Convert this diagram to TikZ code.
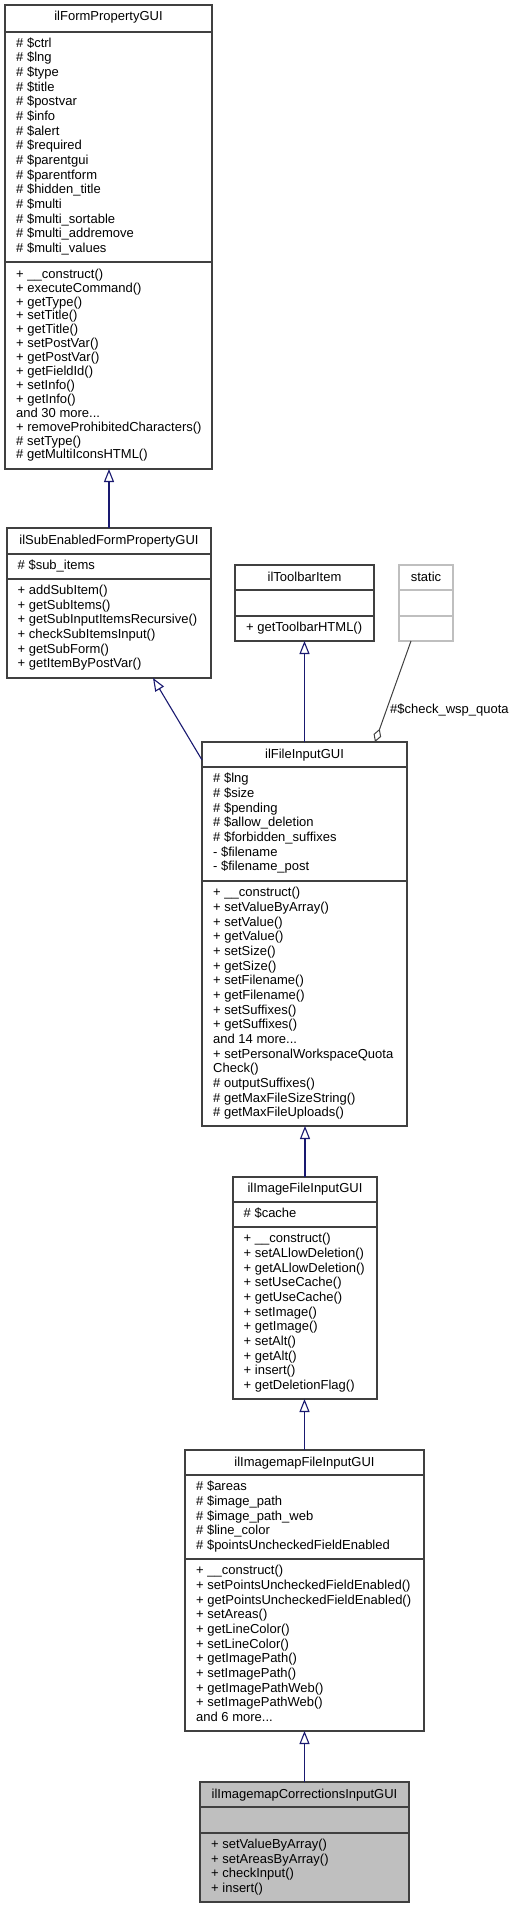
\documentclass[tikz,border=0pt]{standalone}
\usepackage{fontspec}
\setmainfont{Liberation Sans}
\usetikzlibrary{arrows.meta,calc}
\definecolor{boxc}{HTML}{404040}
\definecolor{edgec}{HTML}{191970}
\definecolor{graybox}{HTML}{BFBFBF}
\newcommand{\fs}{\fontsize{13}{14.67}\selectfont}
\newcommand{\fsn}{\fontsize{13}{13.9}\selectfont}
\tikzset{
  box/.style={draw=boxc, line width=1.4pt, inner sep=0pt, outer sep=0pt, fill=white, anchor=north west},
  ttl/.style={anchor=base, inner sep=0pt, font=\fs},
  txt/.style={anchor=north west, inner sep=0pt, align=left, font=\fs},
  sepline/.style={draw=boxc, line width=1.4pt},
  inh/.style={draw=edgec, line width=1.1pt, -{Triangle[open, length=13pt, width=10pt]}},
  agg/.style={draw=boxc, line width=1pt, -{Diamond[open, length=14pt, width=8pt]}},
}
\begin{document}
\begin{tikzpicture}[x=1pt, y=-1pt]
\useasboundingbox (0,0) rectangle (515,1908);

% ilFormPropertyGUI
\node[box, minimum width=207pt, minimum height=464pt] (fpg) at (5,5) {};
\draw[sepline] (5,32) -- (212,32);
\draw[sepline] (5,262) -- (212,262);
\node[ttl] (fpg-t) at (108.5,20.3) {ilFormPropertyGUI};
\node[txt] (fpg-a) at (16,36.7) {\strut\# \$ctrl\\\# \$lng\\\# \$type\\\# \$title\\\# \$postvar\\\# \$info\\\# \$alert\\\# \$required\\\# \$parentgui\\\# \$parentform\\\# \$hidden\_title\\\# \$multi\\\# \$multi\_sortable\\\# \$multi\_addremove\\\# \$multi\_values};
\node[txt, font=\fsn] (fpg-m) at (16,268.3) {\strut+ \_\_construct()\\+ executeCommand()\\+ getType()\\+ setTitle()\\+ getTitle()\\+ setPostVar()\\+ getPostVar()\\+ getFieldId()\\+ setInfo()\\+ getInfo()\\and 30 more...\\+ removeProhibitedCharacters()\\\# setType()\\\# getMultiIconsHTML()};

% ilSubEnabledFormPropertyGUI
\node[box, minimum width=204pt, minimum height=150pt] (sub) at (7,528) {};
\draw[sepline] (7,554) -- (211,554);
\draw[sepline] (7,579) -- (211,579);
\node[ttl] (sub-t) at (109,544) {ilSubEnabledFormPropertyGUI};
\node[txt] (sub-a) at (17.5,559) {\strut\# \$sub\_items};
\node[txt] (sub-m) at (17.5,584) {\strut+ addSubItem()\\+ getSubItems()\\+ getSubInputItemsRecursive()\\+ checkSubItemsInput()\\+ getSubForm()\\+ getItemByPostVar()};

% ilToolbarItem
\node[box, minimum width=139pt, minimum height=76pt] (tb) at (235,565) {};
\draw[sepline] (235,590) -- (374,590);
\draw[sepline] (235,616) -- (374,616);
\node[ttl] (tb-t) at (304.5,581) {ilToolbarItem};
\node[txt] (tb-m) at (246,621.2) {\strut+ getToolbarHTML()};

% static
\node[box, draw=graybox, minimum width=54pt, minimum height=76pt] (static) at (399,565) {};
\draw[sepline, draw=graybox] (399,590) -- (453,590);
\draw[sepline, draw=graybox] (399,616) -- (453,616);
\node[ttl] (static-t) at (426,581) {static};

% ilFileInputGUI
\node[box, minimum width=205pt, minimum height=384pt] (fig) at (202,742) {};
\draw[sepline] (202,767) -- (407,767);
\draw[sepline] (202,881) -- (407,881);
\node[ttl] (fig-t) at (304.5,758) {ilFileInputGUI};
\node[txt] (fig-a) at (213,772.2) {\strut\# \$lng\\\# \$size\\\# \$pending\\\# \$allow\_deletion\\\# \$forbidden\_suffixes\\- \$filename\\- \$filename\_post};
\node[txt] (fig-m) at (213,886.2) {\strut+ \_\_construct()\\+ setValueByArray()\\+ setValue()\\+ getValue()\\+ setSize()\\+ getSize()\\+ setFilename()\\+ getFilename()\\+ setSuffixes()\\+ getSuffixes()\\and 14 more...\\+ setPersonalWorkspaceQuota\\Check()\\\# outputSuffixes()\\\# getMaxFileSizeString()\\\# getMaxFileUploads()};

% ilImageFileInputGUI
\node[box, minimum width=144pt, minimum height=222pt] (ifig) at (233,1177) {};
\draw[sepline] (233,1202) -- (377,1202);
\draw[sepline] (233,1227) -- (377,1227);
\node[ttl] (ifig-t) at (305,1192.5) {ilImageFileInputGUI};
\node[txt] (ifig-a) at (243.5,1207.2) {\strut\# \$cache};
\node[txt] (ifig-m) at (243.5,1232.2) {\strut+ \_\_construct()\\+ setALlowDeletion()\\+ getALlowDeletion()\\+ setUseCache()\\+ getUseCache()\\+ setImage()\\+ getImage()\\+ setAlt()\\+ getAlt()\\+ insert()\\+ getDeletionFlag()};

% ilImagemapFileInputGUI
\node[box, minimum width=239pt, minimum height=281pt] (imfig) at (185,1450) {};
\draw[sepline] (185,1475) -- (424,1475);
\draw[sepline] (185,1559) -- (424,1559);
\node[ttl] (imfig-t) at (304.5,1466) {ilImagemapFileInputGUI};
\node[txt] (imfig-a) at (196,1480.2) {\strut\# \$areas\\\# \$image\_path\\\# \$image\_path\_web\\\# \$line\_color\\\# \$pointsUncheckedFieldEnabled};
\node[txt] (imfig-m) at (196,1564.2) {\strut+ \_\_construct()\\+ setPointsUncheckedFieldEnabled()\\+ getPointsUncheckedFieldEnabled()\\+ setAreas()\\+ getLineColor()\\+ setLineColor()\\+ getImagePath()\\+ setImagePath()\\+ getImagePathWeb()\\+ setImagePathWeb()\\and 6 more...};

% ilImagemapCorrectionsInputGUI
\node[box, fill=graybox, minimum width=209pt, minimum height=120pt] (corr) at (200,1782) {};
\draw[sepline] (200,1807) -- (409,1807);
\draw[sepline] (200,1833) -- (409,1833);
\node[ttl] (corr-t) at (304.5,1798) {ilImagemapCorrectionsInputGUI};
\node[txt, font=\fontsize{13}{14.4}\selectfont] (corr-m) at (211,1838.6) {\strut+ setValueByArray()\\+ setAreasByArray()\\+ checkInput()\\+ insert()};

% connectors
\draw[inh] (sub.north) -- (sub.north |- fpg.south);
\draw[inh] ($(fig.north west)+(0,18)$) -- ($(sub.south west)+(146,0)$);
\draw[inh] (fig.north) -- (fig.north |- tb.south);
\draw[agg] ($(static.south west)+(12,0)$) -- ($(fig.north west)+(173,0)$);
\node[anchor=base west, inner sep=0pt, font=\fs] (aggl) at (390,713) {\#\$check\_wsp\_quota};
\draw[inh] (ifig.north) -- (ifig.north |- fig.south);
\draw[inh] (imfig.north) -- (imfig.north |- ifig.south);
\draw[inh] (corr.north) -- (corr.north |- imfig.south);
\end{tikzpicture}
\end{document}
